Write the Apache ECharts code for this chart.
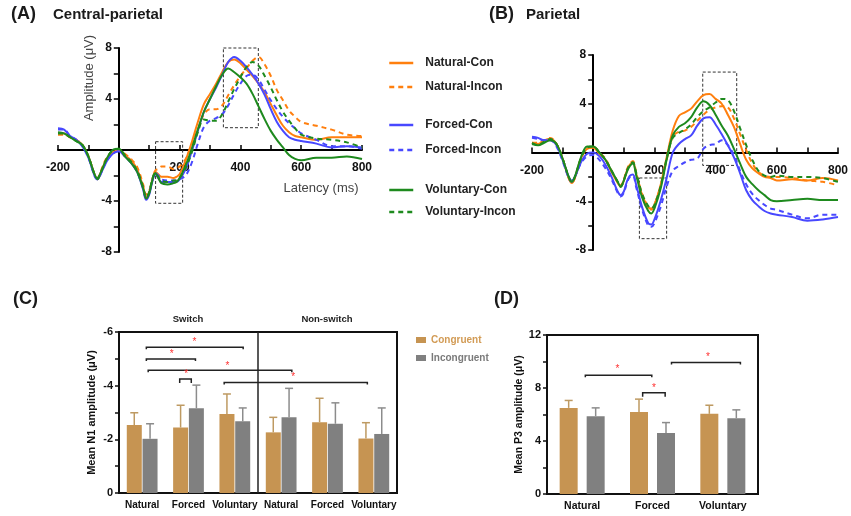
<!DOCTYPE html>
<html><head><meta charset="utf-8">
<script src="https://cdn.jsdelivr.net/npm/echarts/dist/echarts.min.js"></script>
<style>html,body{margin:0;padding:0;background:#fff}#c{width:851px;height:516px}</style>
</head><body><div id="c"></div>
<script>
// ---------- DATA ----------
const times = [-200,-180,-160,-140,-120,-100,-80,-70,-60,-40,-20,0,20,40,60,80,90,100,110,120,130,140,160,180,190,200,220,240,260,280,300,320,340,360,380,400,420,440,460,480,500,520,540,560,580,600,650,700,750,800];

// Panel A: Central-parietal
const aNatCon  = [1.3,1.3,1.0,0.8,0.4,-0.5,-1.9,-2.3,-1.8,-0.7,-0.2,0.0,-0.4,-0.8,-1.5,-2.9,-3.7,-3.3,-2.4,-1.7,-1.9,-2.1,-2.1,-2.2,-2.1,-1.9,-0.8,0.6,2.2,3.6,4.4,5.2,6.1,6.9,7.1,6.8,6.3,5.8,5.2,4.5,3.6,2.7,1.9,1.4,1.1,1.0,0.8,1.0,1.0,1.0];
const aNatInc  = [1.2,1.2,1.0,0.8,0.4,-0.5,-1.9,-2.2,-1.7,-0.6,-0.1,0.0,-0.3,-0.7,-1.3,-2.7,-3.5,-3.2,-2.3,-1.6,-1.5,-1.3,-1.3,-1.5,-1.4,-1.3,-0.7,0.4,1.6,2.8,3.2,3.2,3.5,4.3,5.1,5.8,6.4,7.0,7.3,6.7,5.8,4.7,3.9,3.1,2.6,2.2,1.9,1.6,1.2,1.1];
const aForCon  = [1.7,1.6,1.1,0.8,0.3,-0.6,-2.0,-2.3,-1.9,-0.9,-0.3,-0.1,-0.5,-1.0,-1.7,-3.1,-3.9,-3.5,-2.5,-1.9,-2.2,-2.5,-2.5,-2.5,-2.5,-2.3,-1.5,-0.1,1.5,3.0,4.0,4.9,5.9,6.9,7.3,7.0,6.5,5.9,5.2,4.3,3.2,2.2,1.5,1.0,0.8,0.7,0.5,0.2,0.3,0.2];
const aForInc  = [1.6,1.6,1.1,0.8,0.3,-0.6,-2.0,-2.3,-1.9,-0.9,-0.3,-0.1,-0.5,-1.0,-1.7,-3.0,-3.8,-3.4,-2.4,-1.8,-2.0,-2.3,-2.4,-2.4,-2.4,-2.3,-2.0,-1.0,0.5,1.8,2.3,2.5,2.8,3.5,4.4,5.2,5.8,5.9,5.5,4.7,3.9,3.2,2.6,2.1,1.7,1.3,0.8,0.3,0.3,0.1];
const aVolCon  = [1.4,1.3,1.0,0.7,0.4,-0.5,-1.9,-2.3,-1.8,-0.7,0.0,0.1,-0.5,-1.0,-1.7,-3.0,-3.8,-3.4,-2.4,-1.8,-2.2,-2.6,-2.7,-2.6,-2.5,-2.2,-1.2,0.1,1.6,3.0,4.0,5.0,5.9,6.4,6.1,5.7,5.2,4.4,3.4,2.4,1.5,0.8,0.2,-0.4,-0.7,-0.8,-0.6,-0.6,-0.5,-0.7];
const aVolInc  = [1.3,1.3,1.0,0.7,0.4,-0.5,-1.9,-2.2,-1.8,-0.7,0.0,0.1,-0.4,-0.9,-1.6,-2.9,-3.7,-3.3,-2.3,-1.8,-2.1,-2.4,-2.5,-2.4,-2.4,-2.2,-1.4,-0.2,1.4,2.4,2.3,2.3,2.8,3.8,4.8,5.7,6.5,6.9,6.6,5.8,4.9,3.9,3.0,2.3,1.7,1.2,0.9,0.8,0.6,0.2];

// Panel B: Parietal
const bNatCon  = [0.8,0.7,1.0,1.1,0.7,-0.5,-2.1,-2.5,-2.1,-0.5,0.3,0.4,-0.1,-0.6,-1.6,-2.5,-2.8,-2.3,-1.5,-1.0,-0.8,-1.7,-3.5,-4.5,-4.6,-4.3,-2.7,-0.4,1.8,3.0,3.3,3.6,4.2,4.7,4.8,4.4,4.0,3.1,2.1,0.7,-0.6,-1.3,-1.7,-2.0,-2.1,-2.3,-2.2,-2.3,-2.1,-2.3];
const bNatInc  = [0.8,0.8,1.0,1.2,0.7,-0.5,-2.1,-2.5,-2.1,-0.5,0.3,0.5,0.0,-0.5,-1.5,-2.4,-2.7,-2.2,-1.4,-0.9,-0.7,-1.6,-3.4,-4.5,-4.7,-4.3,-2.8,-0.6,1.3,1.7,1.8,2.1,2.6,3.1,3.5,3.7,3.8,3.7,2.8,1.5,0.2,-0.9,-1.6,-1.9,-2.0,-2.0,-2.1,-2.3,-2.4,-2.7];
const bForCon  = [1.3,1.2,1.0,1.0,0.6,-0.6,-2.0,-2.3,-2.0,-0.8,-0.1,0.0,-0.3,-1.0,-2.0,-3.2,-3.5,-3.2,-2.4,-1.9,-1.8,-2.6,-4.5,-5.8,-5.9,-5.5,-4.0,-2.1,0.0,0.7,1.1,1.4,2.2,2.8,2.9,2.3,1.5,0.6,-0.4,-1.7,-3.1,-3.9,-4.4,-4.8,-5.0,-5.1,-5.3,-5.6,-5.5,-5.3];
const bForInc  = [1.2,1.1,1.0,1.0,0.5,-0.7,-2.1,-2.4,-2.0,-0.9,-0.3,-0.2,-0.6,-1.3,-2.2,-3.3,-3.6,-3.3,-2.5,-2.0,-1.9,-2.8,-4.7,-6.0,-6.1,-5.8,-4.5,-2.8,-1.5,-1.1,-0.8,-0.6,-0.5,0.3,0.6,0.7,1.0,0.6,-0.2,-1.5,-2.6,-3.4,-3.9,-4.3,-4.6,-4.7,-5.1,-5.4,-5.1,-5.1];
const bVolCon  = [0.7,0.6,0.8,1.0,0.7,-0.5,-2.0,-2.4,-2.0,-0.4,0.5,0.5,0.0,-0.6,-1.5,-2.4,-2.8,-2.3,-1.6,-1.1,-0.9,-1.8,-3.7,-4.8,-5.0,-4.6,-3.0,-0.6,1.4,2.1,2.4,2.9,3.7,4.2,3.9,3.1,2.2,1.4,0.3,-0.9,-2.0,-2.6,-3.1,-3.5,-3.9,-4.0,-3.9,-3.8,-3.9,-3.9];
const bVolInc  = [0.8,0.6,0.9,1.1,0.7,-0.5,-2.0,-2.4,-2.0,-0.5,0.4,0.5,0.0,-0.6,-1.5,-2.4,-2.8,-2.3,-1.5,-1.0,-0.8,-1.6,-3.4,-4.4,-4.6,-4.3,-2.8,-0.5,1.2,1.6,1.9,2.3,2.9,3.4,3.7,4.1,4.4,4.3,3.4,2.0,0.6,-0.6,-1.5,-1.9,-2.0,-1.9,-2.0,-2.0,-2.1,-2.4];

// Dashed analysis windows [t1, v1, t2, v2]
const aWindows = [[121, 0.65, 210, -4.18], [344, 8.3, 459, 1.75]];
const bWindows = [[151, -2.09, 240, -7.07], [358, 6.6, 469, -1.06]];

const seriesNames = ['Natural-Con','Natural-Incon','Forced-Con','Forced-Incon','Voluntary-Con','Voluntary-Incon'];

// Panel C: Mean N1 amplitude
const cCategories = ['Natural','Forced','Voluntary','Natural','Forced','Voluntary'];
const cGroups = ['Switch','Non-switch'];
const cCon    = [-2.53,-2.44,-2.94,-2.26,-2.64,-2.03];
const cInc    = [-2.02,-3.16,-2.67,-2.82,-2.58,-2.20];
const cConErr = [0.46,0.83,0.75,0.56,0.89,0.59];
const cIncErr = [0.56,0.86,0.50,1.08,0.78,0.97];
// significance: [x1, x2, y, bracket, starX, starY] (category-index units)
const cSig = [[0.09,2.18,-5.43,0,1.13,-5.62],[0.09,1.15,-4.99,0,0.64,-5.16],[0.13,3.23,-4.57,0,1.84,-4.74],[0.81,1.06,-4.25,1,0.95,-4.43],[1.77,4.86,-4.12,0,3.26,-4.30]];
const cDivider = 2.5;

// Panel D: Mean P3 amplitude
const dCategories = ['Natural','Forced','Voluntary'];
const dCon    = [6.50,6.18,6.05];
const dInc    = [5.87,4.61,5.72];
const dConErr = [0.56,0.98,0.65];
const dIncErr = [0.63,0.78,0.63];
const dSig = [[0.045,0.99,8.97,0,0.50,9.42],[0.86,1.18,7.64,1,1.02,8.0],[1.27,2.25,9.93,0,1.79,10.3]];

// ---------- STYLE ----------
const FONT = "'Liberation Sans', Arial, sans-serif";
const ORANGE = '#FF7F0E', BLUE = '#4848FF', GREEN = '#1E8A1E';
const TAN = '#C69452', GRAY = '#808080';
const colorsByName = [ORANGE, ORANGE, BLUE, BLUE, GREEN, GREEN];
const X_MIN = -200, X_MAX = 800, Y_MIN = -8, Y_MAX = 8;
const gridA = {left: 58, top: 48, width: 304, height: 204};
const gridB = {left: 532, top: 55, width: 306, height: 195};

const chart = echarts.init(document.getElementById('c'), null, {renderer:'canvas'});

function erpSeries(arrs, xi, yi) {
  return arrs.map((arr, k) => ({
    name: seriesNames[k], type: 'line', xAxisIndex: xi, yAxisIndex: yi,
    data: times.map((t, i) => [t, arr[i]]), symbol: 'none', smooth: 0.35,
    lineStyle: {color: colorsByName[k], width: 2, type: k % 2 ? [5, 4] : 'solid'},
    itemStyle: {color: colorsByName[k]}, silent: true, z: 3
  }));
}
function windowSeries(wins, xi, yi) {
  return {type: 'line', xAxisIndex: xi, yAxisIndex: yi, data: [], silent: true, z: 4,
    markArea: {silent: true, itemStyle: {color: 'rgba(0,0,0,0)', borderColor: '#333', borderWidth: 1, borderType: [3, 2]},
      data: wins.map(w => [{coord: [w[0], w[1]]}, {coord: [w[2], w[3]]}])}};
}
// axes crossing at the origin (placed with offset)
function erpX(gi, g) {
  const off = -g.height * (0 - Y_MIN) / (Y_MAX - Y_MIN);
  return {type: 'value', gridIndex: gi, min: X_MIN, max: X_MAX, interval: 100, position: 'bottom', offset: off,
    axisLine: {onZero: false, lineStyle: {color: '#000', width: 2}},
    axisTick: {inside: true, length: 5, lineStyle: {color: '#000', width: 1.5}},
    axisLabel: {margin: 12, fontSize: 12, fontWeight: 'bold', color: '#111', fontFamily: FONT,
      formatter: v => (v % 200 === 0 && v !== 0) ? String(v) : ''},
    splitLine: {show: false}};
}
function erpY(gi, g) {
  const off = -g.width * (0 - X_MIN) / (X_MAX - X_MIN);
  return {type: 'value', gridIndex: gi, min: Y_MIN, max: Y_MAX, interval: 2, position: 'left', offset: off,
    axisLine: {show: true, onZero: false, lineStyle: {color: '#000', width: 2}},
    axisTick: {show: true, length: 5, lineStyle: {color: '#000', width: 1.5}},
    axisLabel: {margin: 7, fontSize: 12, fontWeight: 'bold', color: '#111', fontFamily: FONT,
      formatter: v => (v % 4 === 0 && v !== 0) ? String(v) : ''},
    splitLine: {show: false}};
}
function errRender(offset, color, dir) {
  return function (params, api) {
    const i = api.value(0), m = api.value(1), e = api.value(2);
    const b = api.coord([i, m]), t = api.coord([i, m + dir * e]);
    const x = b[0] + offset;
    return {type: 'group', children: [
      {type: 'line', shape: {x1: x, y1: b[1], x2: x, y2: t[1]}, style: {stroke: color, lineWidth: 1.5}},
      {type: 'line', shape: {x1: x - 4, y1: t[1], x2: x + 4, y2: t[1]}, style: {stroke: color, lineWidth: 1.5}}
    ]};
  };
}
function sigRender(params, api) {
  const x1 = api.value(0), x2 = api.value(1), y = api.value(2), br = api.value(3);
  const p1 = api.coord([x1, y]), p2 = api.coord([x2, y]), ps = api.coord([api.value(4), api.value(5)]);
  const tk = br ? 4 : 2;
  return {type: 'group', children: [
    {type: 'polyline', shape: {points: [[p1[0], p1[1] + tk], p1, p2, [p2[0], p2[1] + tk]]}, style: {stroke: '#222', lineWidth: 1.5, fill: null}},
    {type: 'text', style: {x: ps[0], y: ps[1], text: '*', fill: '#FF3030', fontSize: 10, fontFamily: FONT, align: 'center', verticalAlign: 'middle'}}
  ]};
}
const catLabel = (fs) => ({margin: 7, fontSize: fs, fontWeight: 'bold', color: '#111', fontFamily: FONT, interval: 0});
const erpLegend = (names, top, gap) => ({data: names, left: 388, top: top, orient: 'vertical', itemWidth: 24, itemHeight: 14, itemGap: gap, padding: 0,
  itemStyle: {color: 'rgba(0,0,0,0)', borderColor: 'rgba(0,0,0,0)', borderWidth: 0},
  lineStyle: {width: 2.5},
  textStyle: {fontSize: 12, fontWeight: 'bold', color: '#222', padding: [0, 0, 0, 7]}});

const option = {
  animation: false,
  textStyle: {fontFamily: FONT},
  grid: [
    gridA, gridB,
    {left: 119, top: 332, width: 278, height: 161, show: true, borderColor: '#111', borderWidth: 2, backgroundColor: 'transparent'},
    {left: 547, top: 335, width: 211, height: 159, show: true, borderColor: '#111', borderWidth: 2, backgroundColor: 'transparent'}
  ],
  xAxis: [
    erpX(0, gridA), erpX(1, gridB),
    {type: 'category', gridIndex: 2, data: cCategories, axisLine: {onZero: false, lineStyle: {color: '#111', width: 2}},
      axisTick: {alignWithLabel: true, length: 4, lineStyle: {color: '#111', width: 1.5}}, axisLabel: catLabel(10)},
    {type: 'value', gridIndex: 2, min: -0.5, max: 5.5, show: false},
    {type: 'category', gridIndex: 3, data: dCategories, axisLine: {onZero: false, lineStyle: {color: '#111', width: 2}},
      axisTick: {alignWithLabel: true, length: 4, lineStyle: {color: '#111', width: 1.5}}, axisLabel: catLabel(10.5)},
    {type: 'value', gridIndex: 3, min: -0.5, max: 2.5, show: false}
  ],
  yAxis: [
    erpY(0, gridA), erpY(1, gridB),
    {type: 'value', gridIndex: 2, inverse: true, min: -6, max: 0, interval: 1,
      name: 'Mean N1 amplitude (μV)', nameLocation: 'middle', nameGap: 22, nameRotate: 90,
      nameTextStyle: {fontSize: 11, fontWeight: 'bold', color: '#111', fontFamily: FONT},
      axisLine: {show: true, onZero: false, lineStyle: {color: '#111', width: 2}},
      axisTick: {show: true, length: 4, lineStyle: {color: '#111', width: 1.5}},
      axisLabel: {margin: 6, fontSize: 11, fontWeight: 'bold', color: '#111', fontFamily: FONT, formatter: v => (v % 2 === 0) ? String(v) : ''},
      splitLine: {show: false}},
    {type: 'value', gridIndex: 3, min: 0, max: 12, interval: 2,
      name: 'Mean P3 amplitude (μV)', nameLocation: 'middle', nameGap: 21, nameRotate: 90,
      nameTextStyle: {fontSize: 10.5, fontWeight: 'bold', color: '#111', fontFamily: FONT},
      axisLine: {show: true, onZero: false, lineStyle: {color: '#111', width: 2}},
      axisTick: {show: true, length: 4, lineStyle: {color: '#111', width: 1.5}},
      axisLabel: {margin: 6, fontSize: 11, fontWeight: 'bold', color: '#111', fontFamily: FONT, formatter: v => (v % 4 === 0) ? String(v) : ''},
      splitLine: {show: false}}
  ],
  legend: [
    erpLegend(seriesNames.slice(0, 2), 57, 12),
    erpLegend(seriesNames.slice(2, 4), 119, 13),
    erpLegend(seriesNames.slice(4, 6), 184, 10),
    {data: [{name: 'Congruent', textStyle: {color: '#D29B55'}}, {name: 'Incongruent', textStyle: {color: '#7A7A7A'}}],
      left: 416, top: 334, orient: 'vertical', icon: 'rect', itemWidth: 10, itemHeight: 6, itemGap: 6, padding: 0,
      textStyle: {fontSize: 10, fontWeight: 'bold', lineHeight: 12}}
  ],
  graphic: [
    {type: 'text', left: 11, top: 5, style: {text: '(A)', font: "bold 18px " + FONT, fill: '#1a1a1a'}},
    {type: 'text', left: 53, top: 7, style: {text: 'Central-parietal', font: "bold 15px " + FONT, fill: '#1a1a1a'}},
    {type: 'text', left: 489, top: 5, style: {text: '(B)', font: "bold 18px " + FONT, fill: '#1a1a1a'}},
    {type: 'text', left: 526, top: 7, style: {text: 'Parietal', font: "bold 15px " + FONT, fill: '#1a1a1a'}},
    {type: 'text', left: 13, top: 290, style: {text: '(C)', font: "bold 18px " + FONT, fill: '#1a1a1a'}},
    {type: 'text', left: 494, top: 290, style: {text: '(D)', font: "bold 18px " + FONT, fill: '#1a1a1a'}},
    {type: 'text', x: 89, y: 78, rotation: Math.PI / 2, style: {text: 'Amplitude (μV)', font: "13px " + FONT, fill: '#444', align: 'center', verticalAlign: 'middle'}},
    {type: 'text', x: 321, y: 188, style: {text: 'Latency (ms)', font: "13px " + FONT, fill: '#444', align: 'center', verticalAlign: 'middle'}},
    {type: 'text', x: 188, y: 319, style: {text: cGroups[0], font: "bold 9.5px " + FONT, fill: '#222', align: 'center', verticalAlign: 'middle'}},
    {type: 'text', x: 327, y: 319, style: {text: cGroups[1], font: "bold 9.5px " + FONT, fill: '#222', align: 'center', verticalAlign: 'middle'}}
  ],
  series: [
    ...erpSeries([aNatCon, aNatInc, aForCon, aForInc, aVolCon, aVolInc], 0, 0),
    windowSeries(aWindows, 0, 0),
    ...erpSeries([bNatCon, bNatInc, bForCon, bForInc, bVolCon, bVolInc], 1, 1),
    windowSeries(bWindows, 1, 1),
    // Panel C bars
    {name: 'Congruent', type: 'bar', xAxisIndex: 2, yAxisIndex: 2, data: cCon, barWidth: 15, barGap: '5%', itemStyle: {color: TAN}, silent: true},
    {name: 'Incongruent', type: 'bar', xAxisIndex: 2, yAxisIndex: 2, data: cInc, barWidth: 15, barGap: '5%', itemStyle: {color: GRAY}, silent: true},
    {type: 'custom', xAxisIndex: 2, yAxisIndex: 2, data: cCon.map((v, i) => [i, v, cConErr[i]]), renderItem: errRender(-7.9, '#BE9A62', -1), z: 5, silent: true},
    {type: 'custom', xAxisIndex: 2, yAxisIndex: 2, data: cInc.map((v, i) => [i, v, cIncErr[i]]), renderItem: errRender(7.9, '#8C8C8C', -1), z: 5, silent: true},
    {type: 'line', xAxisIndex: 3, yAxisIndex: 2, data: [[cDivider, -6], [cDivider, 0]], symbol: 'none', lineStyle: {color: '#222', width: 1.5}, silent: true, z: 6},
    {type: 'custom', xAxisIndex: 3, yAxisIndex: 2, data: cSig, renderItem: sigRender, encode: {x: [0, 1, 4], y: [2, 5]}, z: 6, silent: true},
    // Panel D bars
    {name: 'Congruent', type: 'bar', xAxisIndex: 4, yAxisIndex: 3, data: dCon, barWidth: 18, barGap: '50%', itemStyle: {color: TAN}, silent: true},
    {name: 'Incongruent', type: 'bar', xAxisIndex: 4, yAxisIndex: 3, data: dInc, barWidth: 18, barGap: '50%', itemStyle: {color: GRAY}, silent: true},
    {type: 'custom', xAxisIndex: 4, yAxisIndex: 3, data: dCon.map((v, i) => [i, v, dConErr[i]]), renderItem: errRender(-13.5, '#BE9A62', 1), z: 5, silent: true},
    {type: 'custom', xAxisIndex: 4, yAxisIndex: 3, data: dInc.map((v, i) => [i, v, dIncErr[i]]), renderItem: errRender(13.5, '#8C8C8C', 1), z: 5, silent: true},
    {type: 'custom', xAxisIndex: 5, yAxisIndex: 3, data: dSig, renderItem: sigRender, encode: {x: [0, 1, 4], y: [2, 5]}, z: 6, silent: true}
  ]
};
chart.setOption(option);
</script></body></html>
